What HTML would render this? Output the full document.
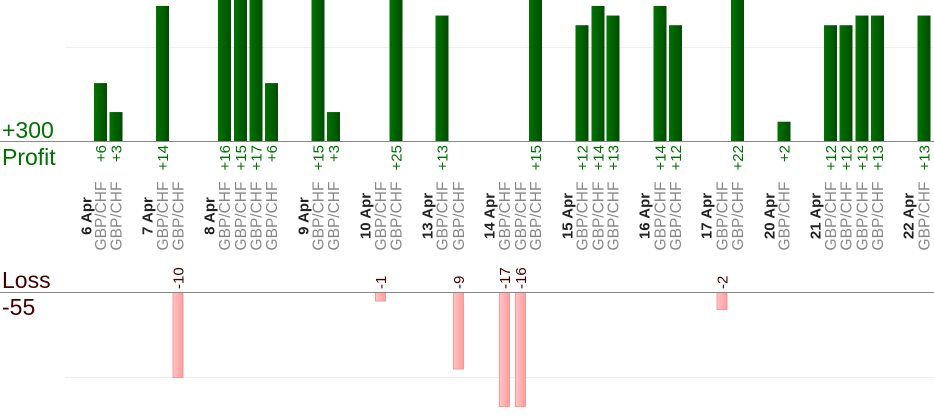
<!DOCTYPE html>
<html><head><meta charset="utf-8"><style>
html,body{margin:0;padding:0;background:#fff;width:934px;height:420px;overflow:hidden}
text{font-family:"Liberation Sans",sans-serif}
.v{fill:#007000;font-size:15px}
.d{fill:#222;font-size:15px;font-weight:bold}
.p{fill:#888;font-size:15.5px}
.l{fill:#400;font-size:15px}
</style></head><body>
<svg width="934" height="420" xmlns="http://www.w3.org/2000/svg">
<defs>
<linearGradient id="g" x1="0" x2="1" y1="0" y2="0"><stop offset="0" stop-color="#007400"/><stop offset="1" stop-color="#004c00"/></linearGradient>
<linearGradient id="r" x1="0" x2="1" y1="0" y2="0"><stop offset="0" stop-color="#ffc4c4"/><stop offset="1" stop-color="#ff9c9c"/></linearGradient>
</defs>
<line x1="65" y1="47.5" x2="934" y2="47.5" stroke="#eee"/>
<line x1="65" y1="377.5" x2="934" y2="377.5" stroke="#eee"/>
<g id="bars"></g>
<line x1="0" y1="141.5" x2="934" y2="141.5" stroke="#888"/>
<line x1="0" y1="292.5" x2="934" y2="292.5" stroke="#888"/>
<text x="2" y="138" style="font-size:23px;fill:#007000">+300</text>
<text x="2" y="165" style="font-size:23px;fill:#007000">Profit</text>
<text x="2" y="288" style="font-size:23px;fill:#400">Loss</text>
<text x="2" y="315" style="font-size:23px;fill:#400">-55</text>
<g id="labels"></g>
</svg>
<script>
var ns="http://www.w3.org/2000/svg";
var bars=document.getElementById("bars"),labs=document.getElementById("labels");
function el(p,t,a,txt){var e=document.createElementNS(ns,t);for(var k in a)e.setAttribute(k,a[k]);if(txt!==undefined)e.textContent=txt;p.appendChild(e);return e;}
function rot(x,y,cls,txt,anchor){el(labs,"text",{x:0,y:0,"class":cls,"text-anchor":anchor,transform:"translate("+(x+5.5)+","+y+") rotate(-90)"},txt);}
var dates=[[86,"6 Apr"],[147,"7 Apr"],[209,"8 Apr"],[303,"9 Apr"],[365,"10 Apr"],[427,"13 Apr"],[489,"14 Apr"],[567,"15 Apr"],[644,"16 Apr"],[706,"17 Apr"],[769,"20 Apr"],[815,"21 Apr"],[908,"22 Apr"]];
var tr=[[100.5,6],[116,3],[162.5,14],[178,-10],[224.5,16],[240.5,15],[256,17],[271.5,6],[318,15],[333.5,3],[380.5,-1],[396,25],[442,13],[458.5,-9],[504.5,-17],[520.5,-16],[535.5,15],[582,12],[598,14],[613,13],[660,14],[675.5,12],[722,-2],[737.5,22],[784,2],[830.5,12],[846,12],[862,13],[877.5,13],[924,13]];
dates.forEach(function(d){rot(d[0],216,"d",d[1],"middle");});
tr.forEach(function(t){
 var x=t[0],v=t[1];
 rot(x,216,"p","GBP/CHF","middle");
 if(v>0){var h=Math.min(141,v*9.65);el(bars,"rect",{x:x-6.5,y:141-h,width:13,height:h,fill:"url(#g)"});rot(x,145,"v","+"+v,"end");}
 else{var h=Math.min(114,-v*8.5);el(bars,"rect",{x:x-5,y:292.5,width:10,height:h,fill:"url(#r)",stroke:"#f59a9a","stroke-width":1});rot(x,289,"l",""+v,"start");}
});
</script>
</body></html>
